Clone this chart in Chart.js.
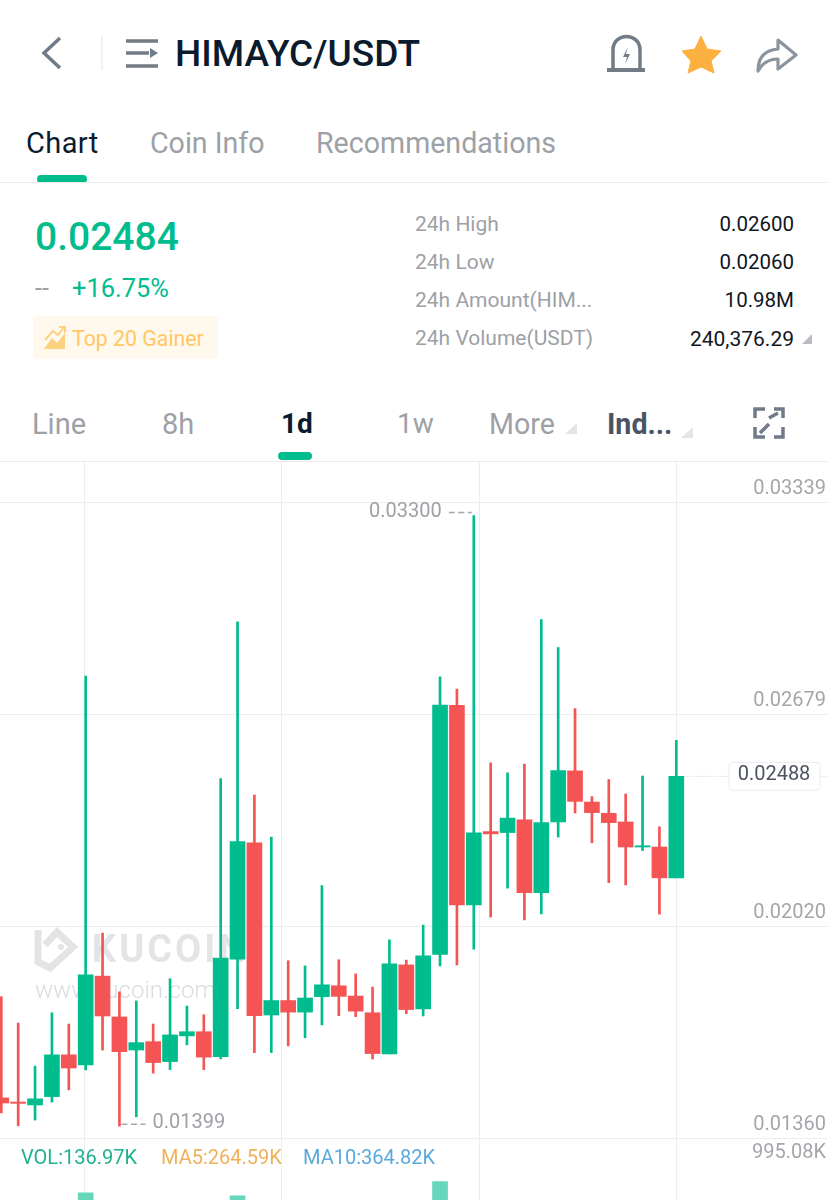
<!DOCTYPE html>
<html>
<head>
<meta charset="utf-8">
<title>HIMAYC/USDT</title>
<script src="https://cdn.jsdelivr.net/npm/chart.js@4/dist/chart.umd.min.js"></script>
<style>
    html, body { margin: 0; padding: 0; background: #fff; overflow: hidden; }
    body { width: 828px; height: 1200px; position: relative; font-family: Roboto, sans-serif; }
    .t { position: absolute; white-space: nowrap; line-height: 1; }
    .r { transform: translateX(-100%); }
    .gray { color: #9da1a6; }
    .rule { position: absolute; left: 0; width: 828px; height: 1px; background: #ebebeb; }
    .pill { position: absolute; background: #01bc8d; border-radius: 4px; }
    svg { position: absolute; left: 0; top: 0; }
    #chart { position: absolute; left: 0; top: 462px; }
</style>
</head>
<body>
<svg width="828" height="470" fill="none">
    <path d="M60 38 L44 53 L60 68" stroke="#6f7b88" stroke-width="3.5"/>
    <path d="M102 36 V70" stroke="#ececec" stroke-width="1.5"/>
    <path d="M126 41 H158 M126 66 H158 M126 53 H149" stroke="#727c87" stroke-width="3.5"/>
    <path d="M150 48 L158 53 L150 58 Z" fill="#727c87"/>
    <path d="M613 69 V50 C613 32 640 32 640 50 V69" stroke="#727c87" stroke-width="3.5"/>
    <path d="M607 70 H645" stroke="#727c87" stroke-width="4"/>
    <path d="M628 47 L623 57 H627 L625 64 L630 54 H626 Z" fill="#727c87"/>
    <path d="M701 36 L707 49 L721 51 L711 61 L714 73 L701 67 L688 73 L691 61 L682 51 L695 49 Z" fill="#fbb03f" stroke="#fbb03f" stroke-linejoin="round"/>
    <path d="M758 71 C758 57 765 50 778 49 V40 L796 55 L778 69 V59 C770 59 763 62 758 71 Z" stroke="#8b95a0" stroke-width="3.2" stroke-linejoin="round"/>
    <path d="M802 344 L812 334 V344 Z" fill="#b9bcc0"/>
    <path d="M565 434 L577 423 V434 Z" fill="#e3e5e8"/>
    <path d="M681 438 L693 427 V438 Z" fill="#e3e5e8"/>
    <path d="M755 418 V409 H765 M774 409 H783 V418 M755 427 V437 H765 M783 427 V437 H774" stroke="#6f7b88" stroke-width="3.5"/>
    <path d="M760 433 L769 424 M769 418 L778 413" stroke="#6f7b88" stroke-width="3.5"/>
</svg>

<span class="t" style="left:175px;top:35px;font-size:37px;font-weight:500;color:#0b1b2e">HIMAYC/USDT</span>

<span class="t" style="left:26px;top:129px;font-size:29px;letter-spacing:.4px;color:#0b1b2e">Chart</span>
<span class="t gray" style="left:150px;top:129px;font-size:28.6px">Coin Info</span>
<span class="t gray" style="left:316px;top:129px;font-size:28.6px">Recommendations</span>
<div class="pill" style="left:37px;top:175px;width:50px;height:8px"></div>
<div class="rule" style="top:182px"></div>

<span class="t" style="left:35px;top:218px;font-size:39px;font-weight:500;color:#01bc8d">0.02484</span>
<span class="t gray" style="left:35px;top:276px;font-size:25px">--</span>
<span class="t" style="left:72px;top:276px;font-size:25.4px;color:#01bc8d">+16.75%</span>
<div style="position:absolute;left:33px;top:316px;width:185px;height:43px;background:#fff8ec;border-radius:4px"></div>
<svg width="828" height="470" fill="none">
    <path d="M44 349 L52 338 L57 343 L65 333 V349 Z" fill="#fdd27f"/>
    <path d="M45 340 L53 331 L58 335 L64 327 M59 327 H65 V333" stroke="#fdd27f" stroke-width="2"/>
</svg>
<span class="t" style="left:72px;top:328px;font-size:21.3px;color:#ffc766">Top 20 Gainer</span>

<span class="t gray" style="left:415px;top:214px;font-size:21px">24h High</span>
<span class="t gray" style="left:415px;top:252px;font-size:21px">24h Low</span>
<span class="t gray" style="left:415px;top:290px;font-size:21px">24h Amount(HIM...</span>
<span class="t gray" style="left:415px;top:328px;font-size:21px">24h Volume(USDT)</span>
<span class="t r" style="left:794px;top:214px;font-size:20.5px;color:#10161d">0.02600</span>
<span class="t r" style="left:794px;top:252px;font-size:20.5px;color:#10161d">0.02060</span>
<span class="t r" style="left:794px;top:290px;font-size:20.5px;color:#10161d">10.98M</span>
<span class="t r" style="left:794px;top:329px;font-size:21px;color:#10161d">240,376.29</span>

<span class="t gray" style="left:32px;top:410px;font-size:29px">Line</span>
<span class="t gray" style="left:162px;top:410px;font-size:29px">8h</span>
<span class="t" style="left:281px;top:410px;font-size:28px;font-weight:700;color:#0b1b2e">1d</span>
<span class="t gray" style="left:397px;top:410px;font-size:28px">1w</span>
<span class="t gray" style="left:489px;top:410px;font-size:28.6px">More</span>
<span class="t" style="left:607px;top:410px;font-size:28.6px;font-weight:700;color:#4a5463">Ind...</span>
<div class="pill" style="left:278px;top:452px;width:34px;height:8px"></div>
<div class="rule" style="top:461px"></div>

<canvas id="chart" width="828" height="738"></canvas>

<span class="t" style="left:21px;top:1147px;font-size:20px;color:#1eb290">VOL:136.97K</span>
<span class="t" style="left:161px;top:1147px;font-size:20px;color:#efb15a">MA5:264.59K</span>
<span class="t" style="left:303px;top:1147px;font-size:20px;color:#5aa9dc">MA10:364.82K</span>

<script>
// candles, oldest first
const opens = [0.01487, 0.01474, 0.01465, 0.01491, 0.01621, 0.01590, 0.01866, 0.01739, 0.01636, 0.01662, 0.01600, 0.01680, 0.01693, 0.01615, 0.01919, 0.02281, 0.01745, 0.01790, 0.01754, 0.01802, 0.01836, 0.01804, 0.01752, 0.01624, 0.01901, 0.01764, 0.01934, 0.02709, 0.02088, 0.02316, 0.02313, 0.02353, 0.02126, 0.02346, 0.02505, 0.02408, 0.02373, 0.02346, 0.02268, 0.02268, 0.02172];
const highs = [0.01802, 0.01720, 0.01586, 0.01752, 0.01717, 0.02800, 0.02000, 0.01817, 0.01789, 0.01717, 0.01858, 0.01773, 0.01746, 0.02481, 0.02969, 0.02430, 0.02299, 0.01914, 0.01898, 0.02148, 0.01917, 0.01873, 0.01832, 0.01979, 0.01916, 0.02025, 0.02798, 0.02760, 0.03300, 0.02530, 0.02499, 0.02526, 0.02976, 0.02889, 0.02699, 0.02425, 0.02478, 0.02433, 0.02489, 0.02331, 0.02600];
const lows = [0.01440, 0.01400, 0.01418, 0.01474, 0.01512, 0.01574, 0.01636, 0.01399, 0.01428, 0.01564, 0.01575, 0.01652, 0.01575, 0.01608, 0.01765, 0.01628, 0.01628, 0.01649, 0.01674, 0.01714, 0.01743, 0.01740, 0.01608, 0.01624, 0.01749, 0.01742, 0.01898, 0.01901, 0.01950, 0.02050, 0.02140, 0.02041, 0.02060, 0.02299, 0.02374, 0.02281, 0.02157, 0.02150, 0.02257, 0.02059, 0.02172];
const closes = [0.01471, 0.01470, 0.01484, 0.01621, 0.01580, 0.01870, 0.01742, 0.01631, 0.01659, 0.01597, 0.01683, 0.01693, 0.01614, 0.01922, 0.02285, 0.01743, 0.01790, 0.01754, 0.01798, 0.01839, 0.01803, 0.01757, 0.01625, 0.01904, 0.01762, 0.01929, 0.02710, 0.02088, 0.02312, 0.02309, 0.02358, 0.02126, 0.02344, 0.02506, 0.02410, 0.02375, 0.02344, 0.02268, 0.02272, 0.02172, 0.02488];
// volume in K, only the three tallest reach into the frame, the rest are estimates
const volumes = [180, 120, 150, 260, 140, 613, 330, 210, 160, 110, 190, 120, 140, 420, 592, 380, 150, 120, 130, 170, 110, 100, 160, 340, 230, 280, 692, 520, 460, 180, 170, 260, 310, 350, 240, 120, 130, 150, 140, 190, 137];

const priceTicks = [0.01360, 0.02020, 0.02679, 0.03339];
const volumeTicks = [995.08];
const gridCandles = [4.96, 16.63, 28.31, 40.0];

const lastPrice = 0.02488;
const highLabel = 0.03300;
const lowLabel = 0.01399;

const GREEN = '#01bc8d';
const RED = '#f55454';
const GREEN_SOFT = '#66d7bb';
const RED_SOFT = '#f99898';
const GRID = '#ededed';
const LABEL = '#a3a7ab';

const labels = closes.map((c, i) => i);
const isUp = labels.map(i => closes[i] >= opens[i]);

// the axes sit inside the plot, so they must not take any room from it
const noRoom = scale => {
    scale.paddingTop = scale.paddingBottom = scale.paddingLeft = scale.paddingRight = 0;
    if (scale.axis === 'y') scale.width = 0;
};

const dashes = (ctx, x0, x1, y) => {
    ctx.save();
    ctx.strokeStyle = '#a3a7ab';
    ctx.lineWidth = 1.5;
    ctx.setLineDash([6, 3.5]);
    ctx.beginPath();
    ctx.moveTo(x0, y);
    ctx.lineTo(x1, y);
    ctx.stroke();
    ctx.restore();
};

const candleNotes = {
    id: 'candleNotes',
    beforeDatasetsDraw(chart) {
        const ctx = chart.ctx;
        const top = -462;
        ctx.save();
        // watermark
        ctx.strokeStyle = '#e2e4e6';
        ctx.fillStyle = '#e2e4e6';
        ctx.lineWidth = 7;
        ctx.beginPath();
        ctx.moveTo(38, 930 + top);
        ctx.lineTo(38, 962 + top);
        ctx.lineTo(50, 968 + top);
        ctx.lineTo(73, 947 + top);
        ctx.lineTo(57, 932 + top);
        ctx.lineTo(45, 945 + top);
        ctx.stroke();
        ctx.beginPath();
        ctx.arc(61, 947 + top, 3, 0, Math.PI * 2);
        ctx.fill();
        ctx.font = 'bold 38px Roboto';
        ctx.letterSpacing = '3px';
        ctx.textBaseline = 'alphabetic';
        ctx.fillText('KUCOIN', 92, 962 + top);
        ctx.letterSpacing = '0px';
        ctx.font = '300 24px Roboto';
        ctx.fillStyle = '#d9dcdf';
        ctx.fillText('www.kucoin.com', 35, 998 + top);
        ctx.restore();
    },
    afterDatasetsDraw(chart) {
        const { ctx, scales: { x, y } } = chart;
        ctx.save();
        ctx.font = '20px Roboto';
        ctx.fillStyle = '#9da1a6';
        ctx.textBaseline = 'middle';

        const hx = x.getPixelForValue(highs.indexOf(highLabel));
        const hy = y.getPixelForValue(highLabel);
        ctx.textAlign = 'right';
        ctx.fillText(highLabel.toFixed(5), hx - 32, hy - 4);
        dashes(ctx, hx - 25, hx - 2, hy - 3);

        const lx = x.getPixelForValue(lows.indexOf(lowLabel));
        const ly = y.getPixelForValue(lowLabel);
        ctx.textAlign = 'left';
        ctx.fillText(lowLabel.toFixed(5), lx + 33, ly - 3);
        dashes(ctx, lx + 2, lx + 26, ly - 2);

        // last price line and box
        const py = y.getPixelForValue(lastPrice);
        ctx.strokeStyle = '#c4c7ca';
        ctx.lineWidth = 1;
        ctx.setLineDash([1, 2]);
        ctx.beginPath();
        ctx.moveTo(x.getPixelForValue(labels.length - 1) + 8, py);
        ctx.lineTo(828, py);
        ctx.stroke();
        ctx.setLineDash([]);
        ctx.fillStyle = '#fff';
        ctx.strokeStyle = '#e9ebed';
        ctx.beginPath();
        ctx.roundRect(729, py - 14, 91, 28, 4);
        ctx.fill();
        ctx.stroke();
        ctx.fillStyle = '#4b5460';
        ctx.textAlign = 'center';
        ctx.fillText(lastPrice.toFixed(5), 774, py - 1);
        ctx.restore();
    }
};

new Chart(document.getElementById('chart'), {
    type: 'bar',
    data: {
        datasets: [
            {
                data: labels.map(i => ({ x: i, y: [opens[i], closes[i]] })),
                backgroundColor: isUp.map(u => u ? GREEN : RED),
                barThickness: 15,
                grouped: false,
                yAxisID: 'y'
            },
            {
                data: labels.map(i => ({ x: i, y: [lows[i], highs[i]] })),
                backgroundColor: isUp.map(u => u ? GREEN : RED),
                barThickness: 2,
                grouped: false,
                yAxisID: 'y'
            },
            {
                data: labels.map(i => ({ x: i, y: volumes[i] })),
                backgroundColor: isUp.map(u => u ? GREEN_SOFT : RED_SOFT),
                barThickness: 15,
                grouped: false,
                yAxisID: 'y2'
            }
        ]
    },
    options: {
        responsive: false,
        animation: false,
        devicePixelRatio: 1,
        layout: { padding: 0 },
        plugins: { legend: { display: false }, tooltip: { enabled: false } },
        scales: {
            x: {
                type: 'linear',
                min: -0.077,
                max: 48.99,
                offset: false,
                afterBuildTicks: scale => { scale.ticks = gridCandles.map(value => ({ value })); },
                afterFit: noRoom,
                grid: { color: GRID, drawTicks: false, offset: false },
                border: { display: false },
                ticks: { display: false }
            },
            y: {
                position: 'right',
                min: 0.011691,
                max: 0.034666,
                afterBuildTicks: scale => { scale.ticks = priceTicks.map(value => ({ value })); },
                afterFit: noRoom,
                grid: { color: GRID, drawTicks: false },
                border: { display: false },
                ticks: {
                    mirror: true,
                    padding: -2,
                    labelOffset: -14,
                    color: LABEL,
                    font: { family: 'Roboto', size: 20 },
                    callback: value => value.toFixed(5)
                }
            },
            y2: {
                position: 'right',
                min: 561.5,
                max: 5806,
                afterBuildTicks: scale => { scale.ticks = volumeTicks.map(value => ({ value })); },
                afterFit: noRoom,
                grid: { display: false },
                border: { display: false },
                ticks: {
                    mirror: true,
                    padding: -2,
                    labelOffset: 14,
                    color: LABEL,
                    font: { family: 'Roboto', size: 20 },
                    callback: value => value.toFixed(2) + 'K'
                }
            }
        }
    },
    plugins: [candleNotes]
});
</script>
</body>
</html>
